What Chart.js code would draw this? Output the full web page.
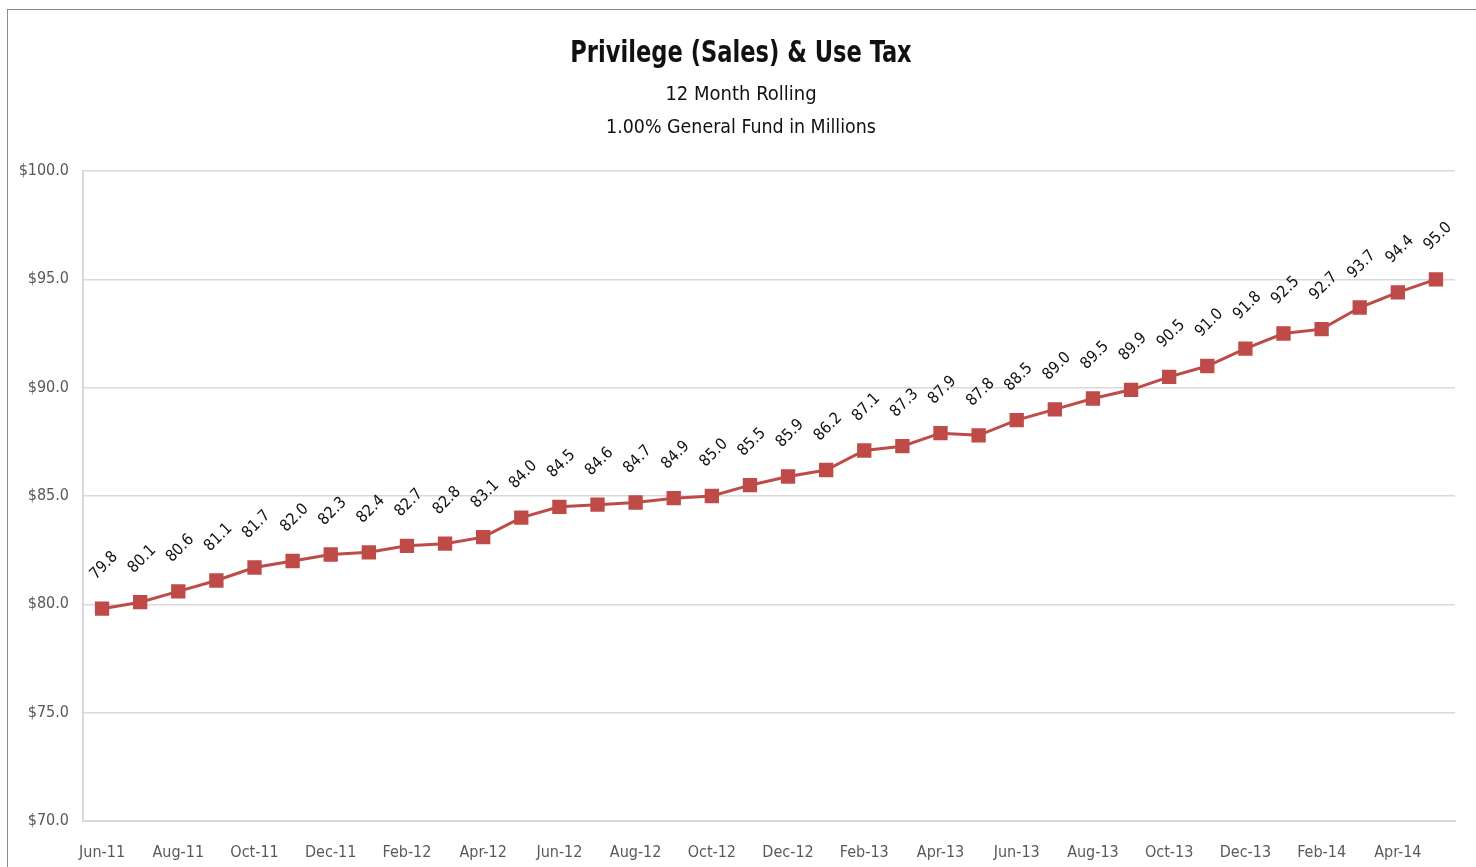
<!DOCTYPE html>
<html><head><meta charset="utf-8">
<script src="https://cdn.jsdelivr.net/npm/chart.js@4/dist/chart.umd.min.js"></script>
<style>
html,body{margin:0;padding:0;background:#fff;overflow:hidden}
#wrap{position:absolute;left:0;top:0;width:1476px;height:867px}
#frame{position:absolute;left:7px;top:9px;width:1480px;height:880px;border:1.5px solid #8c8c8c;box-sizing:border-box}
canvas{position:absolute;left:0;top:0}
</style></head><body>
<div id="wrap"><div id="frame"></div><canvas id="c" width="1476" height="867"></canvas></div>
<script>
const categories = ["Jun-11","Jul-11","Aug-11","Sep-11","Oct-11","Nov-11","Dec-11","Jan-12","Feb-12","Mar-12","Apr-12","May-12","Jun-12","Jul-12","Aug-12","Sep-12","Oct-12","Nov-12","Dec-12","Jan-13","Feb-13","Mar-13","Apr-13","May-13","Jun-13","Jul-13","Aug-13","Sep-13","Oct-13","Nov-13","Dec-13","Jan-14","Feb-14","Mar-14","Apr-14","May-14"];
const values = [79.8,80.1,80.6,81.1,81.7,82.0,82.3,82.4,82.7,82.8,83.1,84.0,84.5,84.6,84.7,84.9,85.0,85.5,85.9,86.2,87.1,87.3,87.9,87.8,88.5,89.0,89.5,89.9,90.5,91.0,91.8,92.5,92.7,93.7,94.4,95.0];
const titleLines = ["Privilege (Sales) & Use Tax","12 Month Rolling","1.00% General Fund in Millions"];
const yMin = 70, yMax = 100, yStep = 5;

const FONT = '"Liberation Sans Narrow","DejaVu Sans Condensed","Open Sans",sans-serif';

const labelsPlugin = {
  id:'labelsPlugin',
  afterDatasetsDraw(chart){
    const ctx = chart.ctx;
    const meta = chart.getDatasetMeta(0);
    ctx.save();
    ctx.fillStyle = '#111';
    ctx.font = '16px ' + FONT;
    ctx.textAlign = 'center';
    ctx.textBaseline = 'middle';
    meta.data.forEach((pt,i)=>{
      ctx.save();
      ctx.translate(pt.x + 2, pt.y - 43);
      ctx.rotate(-Math.PI/4);
      ctx.fillText(values[i].toFixed(1), 0, 0);
      ctx.restore();
    });
    ctx.restore();
  },
  afterDraw(chart){
    const ctx = chart.ctx;
    ctx.save();
    ctx.fillStyle = '#111';
    ctx.textAlign = 'center';
    ctx.textBaseline = 'middle';
    ctx.save();
    ctx.translate(741, 54);
    ctx.scale(0.81, 1);
    ctx.font = 'bold 31px ' + FONT;
    ctx.fillText(titleLines[0], 0, 0);
    ctx.restore();
    ctx.font = '20px ' + FONT;
    ctx.fillText(titleLines[1], 741, 95);
    ctx.save();
    ctx.translate(741, 128);
    ctx.scale(0.97, 1);
    ctx.fillText(titleLines[2], 0, 0);
    ctx.restore();
    ctx.restore();
  }
};

new Chart(document.getElementById('c'), {
  type:'line',
  data:{labels:categories, datasets:[{
    data:values,
    borderColor:'#be4b48',
    backgroundColor:'#be4b48',
    borderWidth:3,
    pointStyle:'rect',
    pointRadius:8,
    pointHoverRadius:8,
    tension:0
  }]},
  options:{
    responsive:false,
    animation:false,
    events:[],
    layout:{padding:{left:0,right:21,top:171,bottom:0}},
    plugins:{legend:{display:false},tooltip:{enabled:false},title:{display:false}},
    scales:{
      x:{
        offset:true,
        grid:{display:false,drawTicks:false},
        border:{display:true,color:'#d9d9d9',width:2},
        ticks:{
          autoSkip:false,maxRotation:0,minRotation:0,padding:22,
          color:'#595959',font:{family:FONT,size:16},
          callback:function(v,i){return i%2===0?categories[i]:'';}
        },
        afterFit:function(s){s.height=46;}
      },
      y:{
        min:yMin,max:yMax,
        grid:{color:'#d9d9d9',lineWidth:1.5,drawTicks:false},
        border:{display:true,color:'#d9d9d9',width:2},
        ticks:{stepSize:yStep,padding:14,color:'#595959',font:{family:FONT,size:16},
          callback:function(v){return '$'+Number(v).toFixed(1);}},
        afterFit:function(s){s.width=83;}
      }
    }
  },
  plugins:[labelsPlugin]
});
</script>
</body></html>
